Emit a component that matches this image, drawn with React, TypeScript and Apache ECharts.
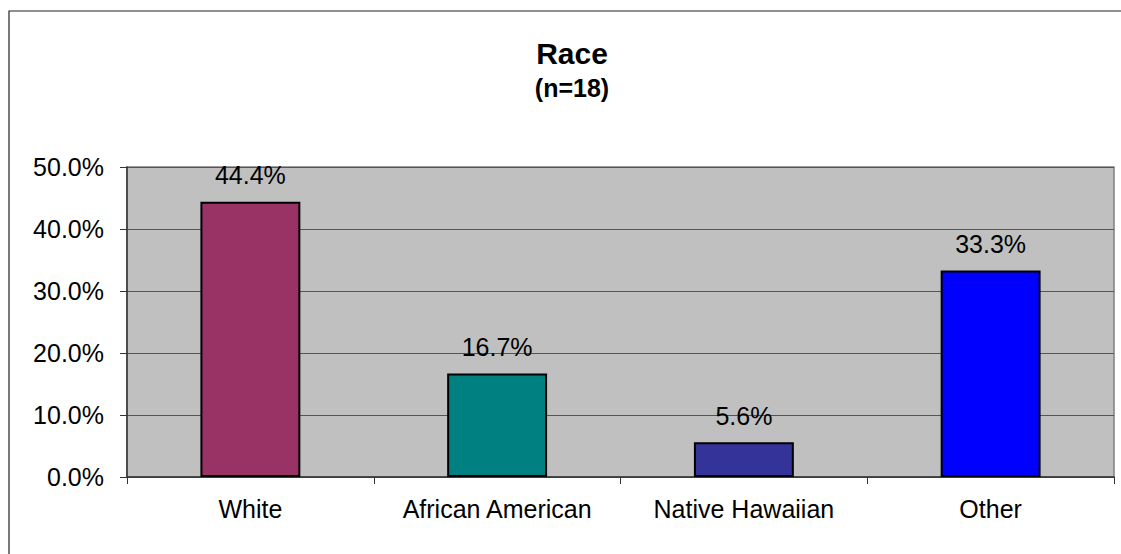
import React, { useEffect, useRef } from "react";
import * as echarts from "echarts";

const categories = ["White", "African American", "Native Hawaiian", "Other"];
const values = [44.4, 16.7, 5.6, 33.3];
const barColors = ["#993366", "#008080", "#333399", "#0000FF"];
const titleText = "Race";
const subtitleText = "(n=18)";

export default function App() {
  const ref = useRef<HTMLDivElement>(null);
  useEffect(() => {
    if (!ref.current) return;
    const chart = echarts.init(ref.current, null, { renderer: "svg" });
    const font = "Arial, 'Liberation Sans', sans-serif";
    chart.setOption({
      animation: false,
      backgroundColor: "#ffffff",
      textStyle: { fontFamily: font },
      graphic: [
        {
          type: "rect",
          shape: { x: 9, y: 11, width: 1130, height: 560 },
          style: { fill: "none", stroke: "#222", lineWidth: 1.2 },
          z: 0,
        },
        {
          type: "text",
          x: 572,
          y: 53,
          style: {
            text: titleText,
            font: "bold 30px Arial, 'Liberation Sans', sans-serif",
            fill: "#000",
            textAlign: "center",
            textVerticalAlign: "middle",
          },
        },
        {
          type: "text",
          x: 572,
          y: 88,
          style: {
            text: subtitleText,
            font: "bold 25px Arial, 'Liberation Sans', sans-serif",
            fill: "#000",
            textAlign: "center",
            textVerticalAlign: "middle",
          },
        },
      ],
      grid: {
        left: 127,
        right: 7,
        top: 167,
        bottom: 77,
        show: true,
        backgroundColor: "#C0C0C0",
        borderColor: "#808080",
        borderWidth: 1.5,
      },
      xAxis: {
        type: "category",
        data: categories,
        axisLine: { show: true, lineStyle: { color: "#333", width: 1.5 } },
        axisTick: { show: true, length: 7, lineStyle: { color: "#333" } },
        axisLabel: { color: "#000", fontSize: 25, margin: 19, interval: 0, hideOverlap: false, fontFamily: font },
      },
      yAxis: {
        type: "value",
        min: 0,
        max: 50,
        interval: 10,
        axisLine: { show: true, lineStyle: { color: "#333", width: 1.5 } },
        axisTick: { show: true, length: 7, lineStyle: { color: "#333" } },
        axisLabel: {
          color: "#000",
          fontSize: 25,
          margin: 23,
          fontFamily: font,
          formatter: (v: number) => v.toFixed(1) + "%",
        },
        splitLine: { show: true, lineStyle: { color: "#555", width: 1 } },
      },
      series: [
        {
          type: "bar",
          barWidth: "40.5%",
          data: values.map((v, i) => ({
            value: v,
            itemStyle: { color: barColors[i], borderColor: "#000", borderWidth: 2 },
          })),
          label: {
            show: true,
            position: "top",
            distance: 14,
            color: "#000",
            fontSize: 25,
            fontFamily: font,
            formatter: (p: any) => p.value.toFixed(1) + "%",
          },
        },
      ],
    });
    return () => chart.dispose();
  }, []);
  return (
    <div
      ref={ref}
      style={{ position: "absolute", left: 0, top: 0, width: 1121, height: 554 }}
    />
  );
}
